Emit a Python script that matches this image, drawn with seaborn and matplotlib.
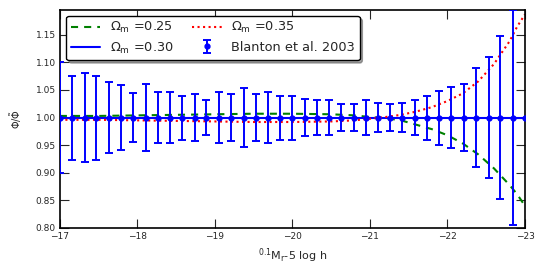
import numpy as np
import pandas as pd
import matplotlib
matplotlib.use('Agg')
import matplotlib.pyplot as plt
import seaborn as sns

# model curves (ratio to the Omega_m=0.30 prediction)
model_x = [-17.0, -17.5, -18.0, -18.5, -19.0, -19.5, -20.0, -20.5, -20.8, -21.0,
           -21.2, -21.4, -21.6, -21.8, -22.0, -22.2, -22.4, -22.6, -22.8, -22.9, -23.0]
om025_y = [1.003, 1.003, 1.004, 1.005, 1.006, 1.007, 1.007, 1.006, 1.004, 1.001,
           0.999, 0.995, 0.987, 0.979, 0.968, 0.953, 0.933, 0.908, 0.878, 0.861, 0.840]
om030_y = [1.0] * len(model_x)
om035_y = [0.996, 0.996, 0.995, 0.994, 0.993, 0.992, 0.992, 0.993, 0.995, 0.998,
           1.001, 1.005, 1.011, 1.019, 1.030, 1.044, 1.066, 1.097, 1.138, 1.165, 1.187]

# Blanton et al. 2003 points
blanton_x = [-17.00, -17.16, -17.32, -17.47, -17.63, -17.79, -17.95, -18.11, -18.26, -18.42,
             -18.58, -18.74, -18.89, -19.05, -19.21, -19.37, -19.53, -19.68, -19.84, -20.00,
             -20.16, -20.32, -20.47, -20.63, -20.79, -20.95, -21.11, -21.26, -21.42, -21.58,
             -21.74, -21.89, -22.05, -22.21, -22.37, -22.53, -22.68, -22.84, -23.00]
blanton_y = [1.0] * len(blanton_x)
blanton_err = [0.100, 0.076, 0.081, 0.076, 0.064, 0.059, 0.045, 0.060, 0.046, 0.046,
               0.040, 0.042, 0.031, 0.046, 0.043, 0.053, 0.043, 0.046, 0.040, 0.040,
               0.034, 0.032, 0.031, 0.025, 0.024, 0.031, 0.026, 0.024, 0.026, 0.032,
               0.040, 0.049, 0.056, 0.061, 0.090, 0.109, 0.148, 0.195, 0.0]

xticks = [-17, -18, -19, -20, -21, -22, -23]
yticks = [0.80, 0.85, 0.90, 0.95, 1.00, 1.05, 1.10, 1.15]

sns.set_style('ticks', {'xtick.direction': 'in', 'ytick.direction': 'in'})
plt.rcParams['font.family'] = ['DejaVu Sans']
plt.rcParams['mathtext.fontset'] = 'dejavusans'

df = pd.DataFrame({'x': model_x, 'om025': om025_y, 'om030': om030_y, 'om035': om035_y})

fig = plt.figure(figsize=(5.44, 2.77), dpi=100)
ax = fig.add_axes([0.110, 0.177, 0.855, 0.787])

sns.lineplot(data=df, x='x', y='om025', ax=ax, color='green', linestyle=(0, (3.4, 2.9)),
             lw=1.5, label=r'$\Omega_{\rm m}$ =0.25', sort=False)
sns.lineplot(data=df, x='x', y='om030', ax=ax, color='blue', linestyle='-',
             lw=1.5, label=r'$\Omega_{\rm m}$ =0.30', sort=False)
sns.lineplot(data=df, x='x', y='om035', ax=ax, color='red', linestyle=':',
             lw=1.5, label=r'$\Omega_{\rm m}$ =0.35', sort=False)
ax.errorbar(blanton_x, blanton_y, yerr=blanton_err, fmt='o', color='blue',
            ms=3.5, elinewidth=1.4, capsize=3, capthick=1.4,
            label='Blanton et al. 2003', zorder=3)

ax.set_xlim(-17, -23)
ax.set_ylim(0.80, 1.195)
ax.set_xticks(xticks)
ax.set_xticklabels([f'\u2212{abs(t)}' for t in xticks])
ax.set_yticks(yticks)
ax.set_yticklabels([f'{t:.2f}' for t in yticks])
ax.tick_params(which='both', direction='in', top=True, right=True,
               length=6.5, width=0.8, labelsize=6.5, pad=3)
for s in ax.spines.values():
    s.set_linewidth(1.2)
    s.set_color('black')

ax.set_xlabel(r'$^{0.1}\mathrm{M_r}$-5 log h', fontsize=8, labelpad=4)
ax.set_ylabel(r'$\Phi/\tilde{\Phi}$', fontsize=7, labelpad=8)

leg = ax.legend(loc='upper left', ncol=2, fontsize=9.3, frameon=True, fancybox=True,
                shadow=True, bbox_to_anchor=(0.008, 0.985), borderaxespad=0.2,
                columnspacing=1.4, handlelength=2.3, handletextpad=0.75,
                labelspacing=0.4, borderpad=0.35, framealpha=1)
leg.get_frame().set_edgecolor('black')
leg.get_frame().set_linewidth(1.0)

fig.savefig('out.png', dpi=100)
